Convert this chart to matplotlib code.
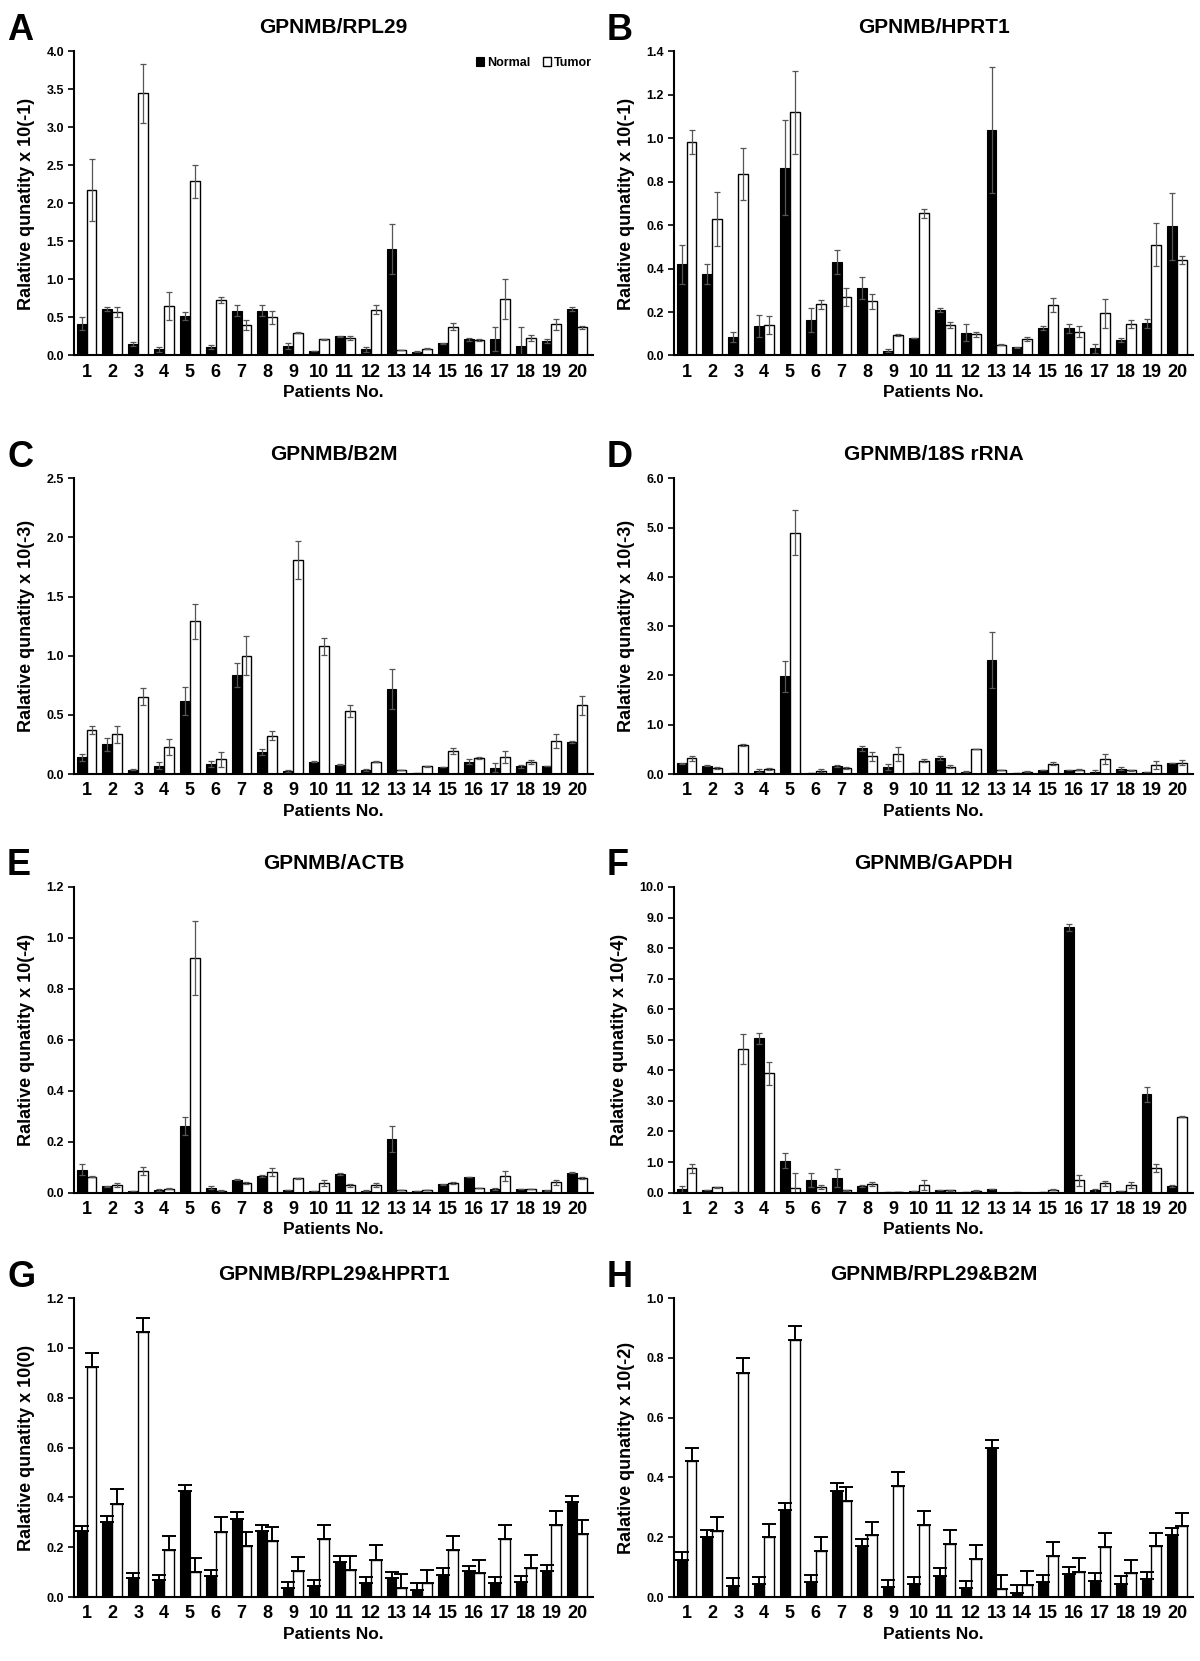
import numpy as np
import matplotlib
matplotlib.use("Agg")
import matplotlib.pyplot as plt

patients = list(range(1, 21))

# A: GPNMB/RPL29
a_normal = [0.42, 0.61, 0.15, 0.08, 0.52, 0.11, 0.59, 0.59, 0.13, 0.06, 0.25, 0.08, 1.40, 0.05, 0.16, 0.21, 0.22, 0.12, 0.19, 0.61]
a_normal_err = [0.08, 0.03, 0.03, 0.03, 0.05, 0.03, 0.07, 0.07, 0.04, 0.0, 0.01, 0.03, 0.33, 0.01, 0.01, 0.02, 0.16, 0.25, 0.02, 0.03]
a_tumor = [2.18, 0.57, 3.45, 0.65, 2.29, 0.73, 0.40, 0.50, 0.30, 0.21, 0.23, 0.60, 0.07, 0.09, 0.38, 0.20, 0.74, 0.23, 0.41, 0.37]
a_tumor_err = [0.41, 0.07, 0.39, 0.18, 0.22, 0.04, 0.06, 0.08, 0.01, 0.01, 0.03, 0.06, 0.0, 0.01, 0.05, 0.01, 0.26, 0.04, 0.07, 0.02]

# B: GPNMB/HPRT1
b_normal = [0.42, 0.375, 0.085, 0.135, 0.865, 0.165, 0.43, 0.31, 0.022, 0.08, 0.21, 0.105, 1.04, 0.037, 0.125, 0.125, 0.033, 0.072, 0.148, 0.595]
b_normal_err = [0.09, 0.045, 0.025, 0.05, 0.22, 0.055, 0.055, 0.05, 0.006, 0.0, 0.01, 0.04, 0.29, 0.003, 0.01, 0.02, 0.02, 0.01, 0.02, 0.155]
b_tumor = [0.985, 0.63, 0.835, 0.14, 1.12, 0.235, 0.27, 0.25, 0.095, 0.655, 0.14, 0.097, 0.05, 0.077, 0.232, 0.11, 0.194, 0.145, 0.51, 0.44]
b_tumor_err = [0.055, 0.125, 0.12, 0.04, 0.19, 0.02, 0.04, 0.035, 0.005, 0.02, 0.015, 0.01, 0.003, 0.01, 0.033, 0.025, 0.066, 0.017, 0.10, 0.018]

# C: GPNMB/B2M
c_normal = [0.14, 0.25, 0.035, 0.07, 0.62, 0.085, 0.84, 0.19, 0.025, 0.105, 0.08, 0.035, 0.72, 0.01, 0.06, 0.105, 0.055, 0.065, 0.07, 0.27]
c_normal_err = [0.03, 0.055, 0.005, 0.03, 0.12, 0.025, 0.10, 0.025, 0.005, 0.005, 0.005, 0.01, 0.17, 0.0, 0.0, 0.02, 0.04, 0.01, 0.0, 0.01]
c_tumor = [0.375, 0.335, 0.655, 0.23, 1.29, 0.125, 1.0, 0.325, 1.81, 1.08, 0.53, 0.105, 0.035, 0.065, 0.195, 0.135, 0.145, 0.10, 0.28, 0.58]
c_tumor_err = [0.035, 0.075, 0.07, 0.065, 0.15, 0.065, 0.165, 0.04, 0.16, 0.07, 0.05, 0.005, 0.0, 0.005, 0.025, 0.005, 0.05, 0.015, 0.06, 0.08]

# D: GPNMB/18S rRNA
d_normal = [0.22, 0.17, 0.03, 0.07, 1.98, 0.03, 0.17, 0.52, 0.14, 0.03, 0.33, 0.05, 2.31, 0.03, 0.08, 0.08, 0.05, 0.11, 0.05, 0.23]
d_normal_err = [0.01, 0.01, 0.0, 0.03, 0.32, 0.0, 0.02, 0.05, 0.06, 0.0, 0.04, 0.01, 0.57, 0.0, 0.0, 0.0, 0.04, 0.03, 0.0, 0.0]
d_tumor = [0.32, 0.12, 0.59, 0.10, 4.90, 0.07, 0.12, 0.36, 0.40, 0.27, 0.15, 0.50, 0.08, 0.05, 0.21, 0.09, 0.31, 0.08, 0.18, 0.23]
d_tumor_err = [0.05, 0.02, 0.02, 0.02, 0.46, 0.03, 0.02, 0.09, 0.14, 0.03, 0.03, 0.0, 0.0, 0.01, 0.03, 0.01, 0.10, 0.01, 0.08, 0.05]

# E: GPNMB/ACTB
e_normal = [0.09, 0.024, 0.005, 0.01, 0.26, 0.02, 0.05, 0.065, 0.01, 0.005, 0.073, 0.007, 0.21, 0.008, 0.032, 0.06, 0.015, 0.015, 0.01, 0.078]
e_normal_err = [0.022, 0.002, 0.0, 0.003, 0.035, 0.004, 0.002, 0.003, 0.0, 0.0, 0.003, 0.002, 0.05, 0.0, 0.002, 0.0, 0.005, 0.0, 0.002, 0.003]
e_tumor = [0.062, 0.03, 0.085, 0.016, 0.92, 0.007, 0.038, 0.082, 0.056, 0.038, 0.028, 0.03, 0.01, 0.01, 0.038, 0.018, 0.065, 0.015, 0.04, 0.058]
e_tumor_err = [0.002, 0.007, 0.015, 0.003, 0.145, 0.002, 0.005, 0.016, 0.003, 0.012, 0.005, 0.007, 0.0, 0.0, 0.004, 0.0, 0.02, 0.0, 0.01, 0.003]

# F: GPNMB/GAPDH
f_normal = [0.12, 0.08, 0.02, 5.05, 1.05, 0.42, 0.48, 0.22, 0.02, 0.04, 0.10, 0.02, 0.12, 0.01, 0.02, 8.68, 0.07, 0.04, 3.22, 0.22]
f_normal_err = [0.10, 0.0, 0.0, 0.18, 0.25, 0.23, 0.30, 0.03, 0.0, 0.0, 0.0, 0.0, 0.0, 0.0, 0.0, 0.12, 0.05, 0.0, 0.25, 0.03]
f_tumor = [0.80, 0.17, 4.70, 3.90, 0.15, 0.18, 0.08, 0.28, 0.02, 0.25, 0.08, 0.06, 0.0, 0.0, 0.10, 0.40, 0.30, 0.25, 0.82, 2.48]
f_tumor_err = [0.15, 0.02, 0.50, 0.37, 0.50, 0.07, 0.02, 0.08, 0.0, 0.17, 0.02, 0.02, 0.0, 0.0, 0.02, 0.18, 0.09, 0.11, 0.13, 0.02]

# G: GPNMB/RPL29&HPRT1
g_normal = [0.265, 0.30, 0.075, 0.07, 0.425, 0.085, 0.315, 0.265, 0.035, 0.045, 0.14, 0.055, 0.075, 0.03, 0.09, 0.105, 0.055, 0.06, 0.105, 0.38]
g_normal_err = [0.02, 0.025, 0.02, 0.02, 0.025, 0.025, 0.025, 0.025, 0.025, 0.025, 0.025, 0.025, 0.025, 0.025, 0.025, 0.02, 0.025, 0.025, 0.025, 0.025]
g_tumor = [0.925, 0.375, 1.065, 0.19, 0.10, 0.26, 0.205, 0.225, 0.105, 0.235, 0.11, 0.15, 0.037, 0.055, 0.19, 0.095, 0.235, 0.115, 0.29, 0.255]
g_tumor_err = [0.055, 0.06, 0.055, 0.055, 0.055, 0.06, 0.055, 0.055, 0.055, 0.055, 0.055, 0.06, 0.055, 0.055, 0.055, 0.055, 0.055, 0.055, 0.055, 0.055]

# H: GPNMB/RPL29&B2M
h_normal = [0.125, 0.20, 0.038, 0.042, 0.29, 0.05, 0.355, 0.17, 0.033, 0.042, 0.072, 0.03, 0.50, 0.015, 0.05, 0.077, 0.055, 0.042, 0.06, 0.207]
h_normal_err = [0.025, 0.025, 0.025, 0.025, 0.025, 0.025, 0.025, 0.025, 0.025, 0.025, 0.025, 0.025, 0.025, 0.025, 0.025, 0.025, 0.025, 0.03, 0.025, 0.025]
h_tumor = [0.455, 0.22, 0.75, 0.20, 0.86, 0.155, 0.32, 0.207, 0.37, 0.242, 0.177, 0.128, 0.028, 0.04, 0.137, 0.085, 0.168, 0.08, 0.172, 0.237]
h_tumor_err = [0.045, 0.047, 0.048, 0.045, 0.047, 0.047, 0.047, 0.043, 0.047, 0.047, 0.047, 0.047, 0.047, 0.047, 0.047, 0.047, 0.047, 0.043, 0.043, 0.043]

titles = ["GPNMB/RPL29", "GPNMB/HPRT1", "GPNMB/B2M", "GPNMB/18S rRNA",
          "GPNMB/ACTB", "GPNMB/GAPDH", "GPNMB/RPL29&HPRT1", "GPNMB/RPL29&B2M"]
letters = ["A", "B", "C", "D", "E", "F", "G", "H"]
exponents = ["-1", "-1", "-3", "-3", "-4", "-4", "0", "-2"]
ymax = [4.0, 1.4, 2.5, 6.0, 1.2, 10.0, 1.2, 1.0]
ystep = [0.5, 0.2, 0.5, 1.0, 0.2, 1.0, 0.2, 0.2]

panels = [
    (a_normal, a_normal_err, a_tumor, a_tumor_err),
    (b_normal, b_normal_err, b_tumor, b_tumor_err),
    (c_normal, c_normal_err, c_tumor, c_tumor_err),
    (d_normal, d_normal_err, d_tumor, d_tumor_err),
    (e_normal, e_normal_err, e_tumor, e_tumor_err),
    (f_normal, f_normal_err, f_tumor, f_tumor_err),
    (g_normal, g_normal_err, g_tumor, g_tumor_err),
    (h_normal, h_normal_err, h_tumor, h_tumor_err),
]

plt.rcParams["font.family"] = ["Liberation Sans", "DejaVu Sans"]
plt.rcParams["font.weight"] = "bold"

fig = plt.figure(figsize=(12, 16.61), dpi=100)

# 축 위치 (left, bottom, width, height)
lefts = [0.062, 0.562]
rows = [(0.786, 0.183), (0.534, 0.178), (0.282, 0.184), (0.0385, 0.180)]

x = np.array(patients)
w = 0.385

for i in range(8):
    normal, normal_err, tumor, tumor_err = panels[i]
    bottom, height = rows[i // 2]
    ax = fig.add_axes([lefts[i % 2], bottom, 0.432, height])

    one_sided = i >= 6
    if one_sided:
        n_err = [np.zeros(20), normal_err]
        t_err = [np.zeros(20), tumor_err]
        ekw = dict(ecolor="black", elinewidth=1.4, capsize=5, capthick=1.4)
    else:
        n_err = normal_err
        t_err = tumor_err
        ekw = dict(ecolor="#555555", elinewidth=0.9, capsize=2.5, capthick=0.9)

    ax.bar(x - w / 2, normal, w, color="black", edgecolor="black", linewidth=0.8,
           yerr=n_err, error_kw=ekw, label="Normal")
    ax.bar(x + w / 2, tumor, w, color="white", edgecolor="black", linewidth=1.0,
           yerr=t_err, error_kw=ekw, label="Tumor")

    ax.set_xlim(0.53, 20.6)
    ax.set_ylim(0, ymax[i])
    yt = np.arange(0, ymax[i] + ystep[i] / 2, ystep[i])
    ax.set_yticks(yt)
    ax.set_yticklabels([f"{v:.1f}" for v in yt], fontsize=9, fontweight="bold")
    ax.set_xticks(x)
    ax.set_xticklabels([str(p) for p in patients], fontsize=13, fontweight="bold")
    ax.tick_params(axis="x", length=0, pad=6)
    ax.tick_params(axis="y", length=4, width=1.2, direction="out")

    for s in ["top", "right"]:
        ax.spines[s].set_visible(False)
    for s in ["left", "bottom"]:
        ax.spines[s].set_linewidth(1.5)

    ax.set_xlabel("Patients No.", fontsize=12.5, fontweight="bold", labelpad=3)
    ax.set_ylabel(f"Ralative qunatity x 10({exponents[i]})", fontsize=13,
                  fontweight="bold", labelpad=8)
    ax.set_title(titles[i], fontsize=15, fontweight="bold", pad=13)
    ax.text(-0.13, 1.07, letters[i], transform=ax.transAxes, fontsize=26,
            fontweight="bold", va="center", ha="left")

    if i == 0:
        ax.legend(loc="upper right", bbox_to_anchor=(1.02, 1.02), ncol=2, frameon=False,
                  handlelength=0.7, handleheight=0.7, handletextpad=0.2,
                  columnspacing=1.0, prop={"weight": "bold", "size": 9})

fig.savefig("out.png", dpi=100)
